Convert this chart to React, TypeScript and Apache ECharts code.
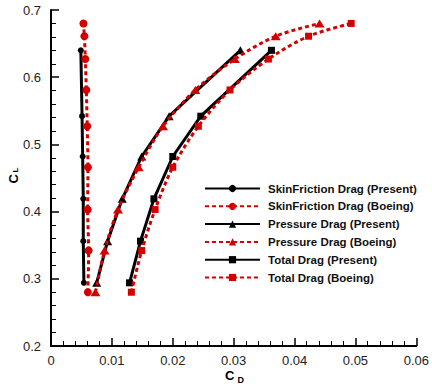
import React, { useEffect, useRef } from "react";
import * as echarts from "echarts";

// ---- Data ----
const presentCL = [0.294, 0.356, 0.419, 0.482, 0.542, 0.64];
const boeingCL = [0.28, 0.342, 0.403, 0.466, 0.527, 0.581, 0.627, 0.661, 0.68];

const skinPresentCD = [0.0054, 0.0053, 0.0053, 0.0052, 0.0051, 0.0049];
const skinBoeingCD = [0.00605, 0.00618, 0.00602, 0.00607, 0.00595, 0.0058, 0.00564, 0.00548, 0.00533];

const pressurePresentCD = [0.0075, 0.0093, 0.0117, 0.0149, 0.0194, 0.0311];
const pressureBoeingCD = [0.0073, 0.0088, 0.011, 0.0144, 0.0184, 0.0237, 0.0302, 0.0369, 0.0441];

const totalPresentCD = [0.0129, 0.0147, 0.0169, 0.02, 0.0246, 0.0362];
const totalBoeingCD = [0.0132, 0.0149, 0.0171, 0.02, 0.0242, 0.0294, 0.0357, 0.0423, 0.0493];

const seriesNames = [
  "SkinFriction Drag (Present)",
  "SkinFriction Drag (Boeing)",
  "Pressure Drag (Present)",
  "Pressure Drag (Boeing)",
  "Total Drag (Present)",
  "Total Drag (Boeing)",
];

const xTicks = { min: 0, max: 0.06, interval: 0.01 };
const yTicks = { min: 0.2, max: 0.7, interval: 0.1 };

const RED = "#d40000";
const BLACK = "#000000";

const pairs = (xs: number[], ys: number[]) => xs.map((x, i) => [x, ys[i]]);

export default function App() {
  const ref = useRef<HTMLDivElement>(null);

  useEffect(() => {
    if (!ref.current) return;
    const chart = echarts.init(ref.current, undefined, { renderer: "svg" });

    const present = (name: string, data: number[][], symbol: string, size: any) => ({
      name,
      type: "line",
      data,
      symbol,
      symbolSize: size,
      itemStyle: { color: BLACK },
      lineStyle: { color: BLACK, width: 3 },
      z: 2,
    });
    const boeing = (name: string, data: number[][], symbol: string, size: any) => ({
      name,
      type: "line",
      data,
      symbol,
      symbolSize: size,
      smooth: 0.3,
      itemStyle: { color: RED },
      lineStyle: { color: RED, width: 3, type: [4, 3] },
      z: 3,
    });

    const option: any = {
      animation: false,
      grid: { left: 51, top: 10, right: 12, bottom: 42 },
      xAxis: {
        type: "value",
        min: xTicks.min,
        max: xTicks.max,
        interval: xTicks.interval,
        axisLine: { show: true, lineStyle: { color: BLACK, width: 2 } },
        axisTick: { show: true, inside: true, length: 8, lineStyle: { color: BLACK, width: 1.5 } },
        minorTick: { show: true, splitNumber: 5, length: 5, lineStyle: { color: BLACK, width: 1 } },
        splitLine: { show: false },
        axisLabel: {
          margin: 8,
          color: "#222",
          fontFamily: "Arial, Liberation Sans, sans-serif",
          fontSize: 13,
          lineHeight: 13,
          formatter: (v: number) => (v === 0 ? "0" : String(+v.toFixed(2))),
        },
      },
      yAxis: {
        type: "value",
        min: yTicks.min,
        max: yTicks.max,
        interval: yTicks.interval,
        axisLine: { show: true, lineStyle: { color: BLACK, width: 2 } },
        axisTick: { show: true, inside: true, length: 8, lineStyle: { color: BLACK, width: 1.5 } },
        minorTick: { show: true, splitNumber: 5, length: 5, lineStyle: { color: BLACK, width: 1 } },
        splitLine: { show: false },
        axisLabel: {
          margin: 10,
          color: "#222",
          fontFamily: "Arial, Liberation Sans, sans-serif",
          fontSize: 13,
          formatter: (v: number) => v.toFixed(1),
        },
      },
      legend: {
        orient: "vertical",
        left: 199,
        top: 177.5,
        itemWidth: 55,
        itemHeight: 9,
        itemGap: 5.8,
        data: seriesNames,
        textStyle: {
          fontFamily: "Arial, Liberation Sans, sans-serif",
          fontWeight: "bold",
          fontSize: 11.5,
          lineHeight: 12,
          color: "#111",
          padding: [0, 0, 0, 3],
        },
      },
      graphic: [
        {
          type: "text",
          x: 225,
          y: 375.5,
          style: { text: "C", font: "bold 13px Arial, Liberation Sans, sans-serif", lineHeight: 11, fill: "#000", textVerticalAlign: "middle", textAlign: "left" },
        },
        {
          type: "text",
          x: 237.5,
          y: 380,
          style: { text: "D", font: "bold 9px Arial, Liberation Sans, sans-serif", lineHeight: 8, fill: "#000", textVerticalAlign: "middle", textAlign: "left" },
        },
        {
          type: "text",
          x: 13,
          y: 183.5,
          rotation: Math.PI / 2,
          style: { text: "C", font: "bold 13px Arial, Liberation Sans, sans-serif", fill: "#000", textVerticalAlign: "middle", textAlign: "left" },
        },
        {
          type: "text",
          x: 15.5,
          y: 172.5,
          rotation: Math.PI / 2,
          style: { text: "L", font: "bold 8px Arial, Liberation Sans, sans-serif", fill: "#000", textVerticalAlign: "middle", textAlign: "left" },
        },
      ],
      series: [
        present(seriesNames[0], pairs(skinPresentCD, presentCL), "circle", 6),
        boeing(seriesNames[1], pairs(skinBoeingCD, boeingCL), "circle", 8),
        present(seriesNames[2], pairs(pressurePresentCD, presentCL), "triangle", [9, 8]),
        boeing(seriesNames[3], pairs(pressureBoeingCD, boeingCL), "triangle", [10, 8]),
        present(seriesNames[4], pairs(totalPresentCD, presentCL), "rect", 7),
        boeing(seriesNames[5], pairs(totalBoeingCD, boeingCL), "rect", 7),
      ],
    };

    chart.setOption(option);
    return () => chart.dispose();
  }, []);

  return (
    <div
      ref={ref}
      style={{ position: "fixed", left: 0, top: 0, width: 432, height: 388, background: "#fff" }}
    />
  );
}
